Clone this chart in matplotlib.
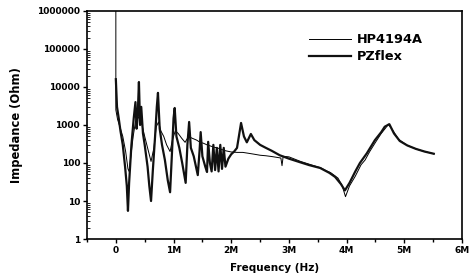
import numpy as np
import matplotlib
matplotlib.use('Agg')
import matplotlib.pyplot as plt

# PZflex simulation (thick line), frequency in MHz, impedance in Ohm
pz_f = [0.0, 0.02, 0.05, 0.08, 0.12, 0.16, 0.19, 0.21, 0.23, 0.27, 0.31, 0.34, 0.36, 0.38,
        0.40, 0.42, 0.44, 0.47, 0.50, 0.55, 0.58, 0.61, 0.64, 0.68, 0.71, 0.73, 0.76, 0.80,
        0.85, 0.90, 0.94, 0.97, 1.00, 1.02, 1.05, 1.10, 1.15, 1.21, 1.24, 1.27, 1.30, 1.35,
        1.42, 1.45, 1.47, 1.50, 1.55, 1.58, 1.60, 1.63, 1.66, 1.69, 1.72, 1.75, 1.78, 1.81,
        1.84, 1.87, 1.90, 1.95, 2.00, 2.05, 2.10, 2.17, 2.22, 2.27, 2.34, 2.40, 2.50, 2.60,
        2.70, 2.84, 3.00, 3.19, 3.35, 3.54, 3.70, 3.80, 3.90, 3.97, 4.05, 4.15, 4.23, 4.35,
        4.49, 4.60, 4.66, 4.74, 4.82, 4.92, 5.05, 5.20, 5.35, 5.51]
pz_z = [16000, 3000, 1500, 700, 300, 80, 25, 5.5, 30, 300, 1500, 4000, 800, 2000,
        13500, 1000, 3000, 600, 300, 80, 25, 10, 60, 500, 3000, 7000, 800, 300,
        120, 35, 17, 150, 1500, 2800, 500, 250, 100, 30, 300, 1200, 250, 150,
        48, 200, 650, 150, 80, 58, 360, 100, 60, 300, 65, 250, 60, 300,
        70, 250, 80, 130, 170, 200, 250, 1130, 500, 350, 580, 400, 300, 250,
        210, 160, 130, 105, 88, 74, 55, 43, 28, 19, 30, 60, 100, 180,
        400, 650, 900, 1050, 600, 380, 290, 235, 200, 175]

# HP4194A measurement (thin line)
hp_f = [0.0, 0.0, 0.03, 0.07, 0.12, 0.17, 0.21, 0.23, 0.26, 0.30, 0.34, 0.37, 0.40, 0.43,
        0.46, 0.50, 0.55, 0.61, 0.66, 0.70, 0.74, 0.78, 0.83, 0.88, 0.94, 0.98, 1.03, 1.08,
        1.14, 1.20, 1.26, 1.32, 1.40, 1.46, 1.52, 1.58, 1.64, 1.70, 1.76, 1.82, 1.90, 2.00,
        2.10, 2.20, 2.30, 2.40, 2.50, 2.60, 2.70, 2.80, 2.86, 2.88, 2.90, 3.00, 3.20, 3.40,
        3.55, 3.65, 3.72, 3.78, 3.85, 3.92, 3.98, 4.05, 4.15, 4.25, 4.32, 4.40, 4.50, 4.60,
        4.68, 4.72, 4.78, 4.90, 5.05, 5.20, 5.35, 5.51]
hp_z = [1000000, 2500, 1400, 900, 500, 200, 70, 60, 150, 500, 1200, 1800, 1500, 2000,
        900, 500, 250, 110, 250, 900, 1200, 700, 500, 300, 200, 400, 700, 600,
        450, 350, 500, 450, 400, 350, 330, 300, 280, 260, 250, 230, 210, 195,
        190, 190, 180, 170, 160, 155, 148, 140, 135, 85, 150, 145, 110, 88,
        75, 62, 56, 48, 40, 26, 13, 25, 45, 90, 120, 200, 350, 600,
        850, 1050, 800, 420, 290, 235, 200, 175]

x_ticks = [0, 1, 2, 3, 4, 5, 6]
x_labels = ['0', '1M', '2M', '3M', '4M', '5M', '6M']
y_ticks = [1, 10, 100, 1000, 10000, 100000, 1000000]
y_labels = ['1', '10', '100', '1000', '10000', '100000', '1000000']

plt.rcParams['font.family'] = ['DejaVu Sans']
plt.rcParams['font.weight'] = 'bold'

fig = plt.figure(figsize=(4.71, 2.74), dpi=100)
ax = fig.add_axes([0.1847, 0.1277, 0.7963, 0.8323])

ax.plot(hp_f, hp_z, color='black', linewidth=0.7, label='HP4194A')
ax.plot(pz_f, pz_z, color='#111111', linewidth=1.6, label='PZflex')

ax.set_yscale('log')
ax.set_xlim(-0.5, 6)
ax.set_ylim(1, 1000000)
ax.set_xticks(x_ticks)
ax.set_xticklabels(x_labels)
ax.set_xticks(np.arange(-0.5, 6, 0.5), minor=True)
ax.set_yticks(y_ticks)
ax.set_yticklabels(y_labels)

ax.tick_params(axis='both', which='major', direction='out', length=3, width=1,
               labelsize=6.5, pad=2)
ax.tick_params(axis='x', which='minor', direction='out', length=2, width=1)
ax.tick_params(axis='y', which='minor', direction='in', length=2, width=0.6)
ax.tick_params(axis='y', which='minor', labelleft=False)
for s in ax.spines.values():
    s.set_linewidth(1.2)

ax.set_xlabel('Frequency (Hz)', fontsize=7.5, fontweight='bold', labelpad=6)
ax.set_ylabel('Impedance (Ohm)', fontsize=8.3, fontweight='bold', labelpad=10)

leg = ax.legend(loc='upper right', bbox_to_anchor=(0.91, 0.925), frameon=False,
                fontsize=9.3, handlelength=3.3, handletextpad=0.45, labelspacing=0.3,
                borderaxespad=0)

fig.savefig('out.png', dpi=100)
